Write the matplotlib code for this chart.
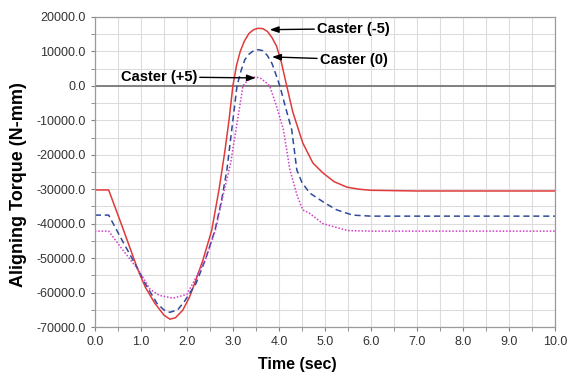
import matplotlib
matplotlib.use("Agg")
import matplotlib.pyplot as plt
from matplotlib.ticker import MultipleLocator, FormatStrFormatter

plt.rcParams['font.family'] = ['Liberation Sans', 'DejaVu Sans']

# Caster (-5) - linea roja continua
t_neg5 = [0, 0.3, 0.6, 0.93, 1.1, 1.3, 1.5, 1.63, 1.75, 1.91, 2.05, 2.17, 2.35, 2.54,
          2.7, 2.83, 2.92, 3.0, 3.08, 3.16, 3.25, 3.35, 3.45, 3.55, 3.65, 3.75, 3.85,
          3.95, 4.05, 4.17, 4.3, 4.52, 4.74, 4.96, 5.2, 5.48, 5.75, 6.0, 7.0, 10.0]
v_neg5 = [-30200, -30200, -41000, -53200, -58500, -63000, -66500, -67700, -67300,
          -65100, -61500, -57300, -50500, -41900, -30000, -18600, -9500, 0, 6000,
          10000, 13000, 15200, 16300, 16700, 16600, 15800, 14000, 11500, 7000, 0,
          -7500, -16600, -22400, -25300, -27800, -29400, -30000, -30300, -30500,
          -30500]

# Caster (0) - linea azul discontinua
t_0 = [0, 0.3, 0.6, 0.95, 1.1, 1.35, 1.5, 1.63, 1.8, 1.95, 2.2, 2.4, 2.61, 2.75,
       2.87, 3.0, 3.09, 3.18, 3.26, 3.35, 3.45, 3.55, 3.65, 3.75, 3.85, 3.93, 4.02,
       4.15, 4.28, 4.39, 4.5, 4.67, 5.0, 5.26, 5.6, 6.0, 10.0]
v_0 = [-37500, -37500, -45000, -53500, -57500, -63100, -65000, -65700, -65000,
       -62500, -57300, -50500, -41900, -33500, -24400, -10000, 0, 4500, 7600, 9200,
       10200, 10500, 10200, 8800, 6500, 3500, 0, -6500, -12800, -24400, -28000,
       -31100, -34000, -36000, -37500, -37800, -37800]

# Caster (+5) - linea magenta punteada
t_pos5 = [0, 0.3, 0.6, 0.95, 1.2, 1.4, 1.7, 2.0, 2.13, 2.4, 2.62, 2.8, 2.95, 3.1,
          3.22, 3.3, 3.4, 3.5, 3.6, 3.7, 3.8, 3.95, 4.1, 4.24, 4.4, 4.52, 4.67, 4.96,
          5.5, 6.0, 10.0]
v_pos5 = [-42150, -42150, -47500, -53500, -59000, -60800, -61600, -60500, -57300,
          -50500, -41900, -31000, -22500, -10000, 0, 1300, 2300, 2600, 2200, 1200, 0,
          -6000, -12800, -24400, -32000, -36000, -37000, -40000, -42000, -42150,
          -42150]

fig = plt.figure(figsize=(5.68, 3.76), dpi=100)
ax = fig.add_axes([0.167, 0.130, 0.810, 0.825])

ax.plot(t_neg5, v_neg5, color='#e03a3a', lw=1.1, ls='-')
ax.plot(t_0, v_0, color='#2f4a9a', lw=1.1, ls=(0, (4, 2.5)))
ax.plot(t_pos5, v_pos5, color='#d23cc8', lw=1.1, ls=(0, (1, 1.2)))

ax.axhline(0, color='#808080', lw=1.4, zorder=1)

ax.set_xlim(0, 10)
ax.set_ylim(-70000, 20000)
ax.xaxis.set_major_locator(MultipleLocator(1))
ax.xaxis.set_minor_locator(MultipleLocator(0.5))
ax.yaxis.set_major_locator(MultipleLocator(10000))
ax.yaxis.set_minor_locator(MultipleLocator(5000))
ax.xaxis.set_major_formatter(FormatStrFormatter('%.1f'))
ax.yaxis.set_major_formatter(FormatStrFormatter('%.1f'))
ax.grid(True, which='both', color='#dcdcdc', lw=0.8)
ax.set_axisbelow(True)
ax.tick_params(which='both', direction='out', length=3, color='#808080',
               labelsize=9, labelcolor='#333333')
for s in ax.spines.values():
    s.set_color('#9a9a9a')
    s.set_linewidth(0.9)

ax.set_xlabel('Time (sec)', fontsize=11.5, fontweight='bold')
ax.set_ylabel('Aligning Torque (N-mm)', fontsize=13, fontweight='bold')
ax.xaxis.set_label_coords(0.44, -0.095)
ax.yaxis.set_label_coords(-0.148, 0.46)

arrow = dict(arrowstyle='-|>,head_length=0.5,head_width=0.18', color='black',
             lw=1.0, shrinkA=0, shrinkB=0)
ax.annotate('Caster (-5)', xy=(3.80, 16300), xytext=(4.83, 16600), ha='left',
            va='center', fontsize=10.5, fontweight='bold', arrowprops=arrow)
ax.annotate('Caster (0)', xy=(3.85, 8400), xytext=(4.89, 7600), ha='left',
            va='center', fontsize=10.5, fontweight='bold', arrowprops=arrow)
ax.annotate('Caster (+5)', xy=(3.50, 2300), xytext=(2.22, 2600), ha='right',
            va='center', fontsize=10.5, fontweight='bold', arrowprops=arrow)

fig.savefig('out.png', dpi=100)
